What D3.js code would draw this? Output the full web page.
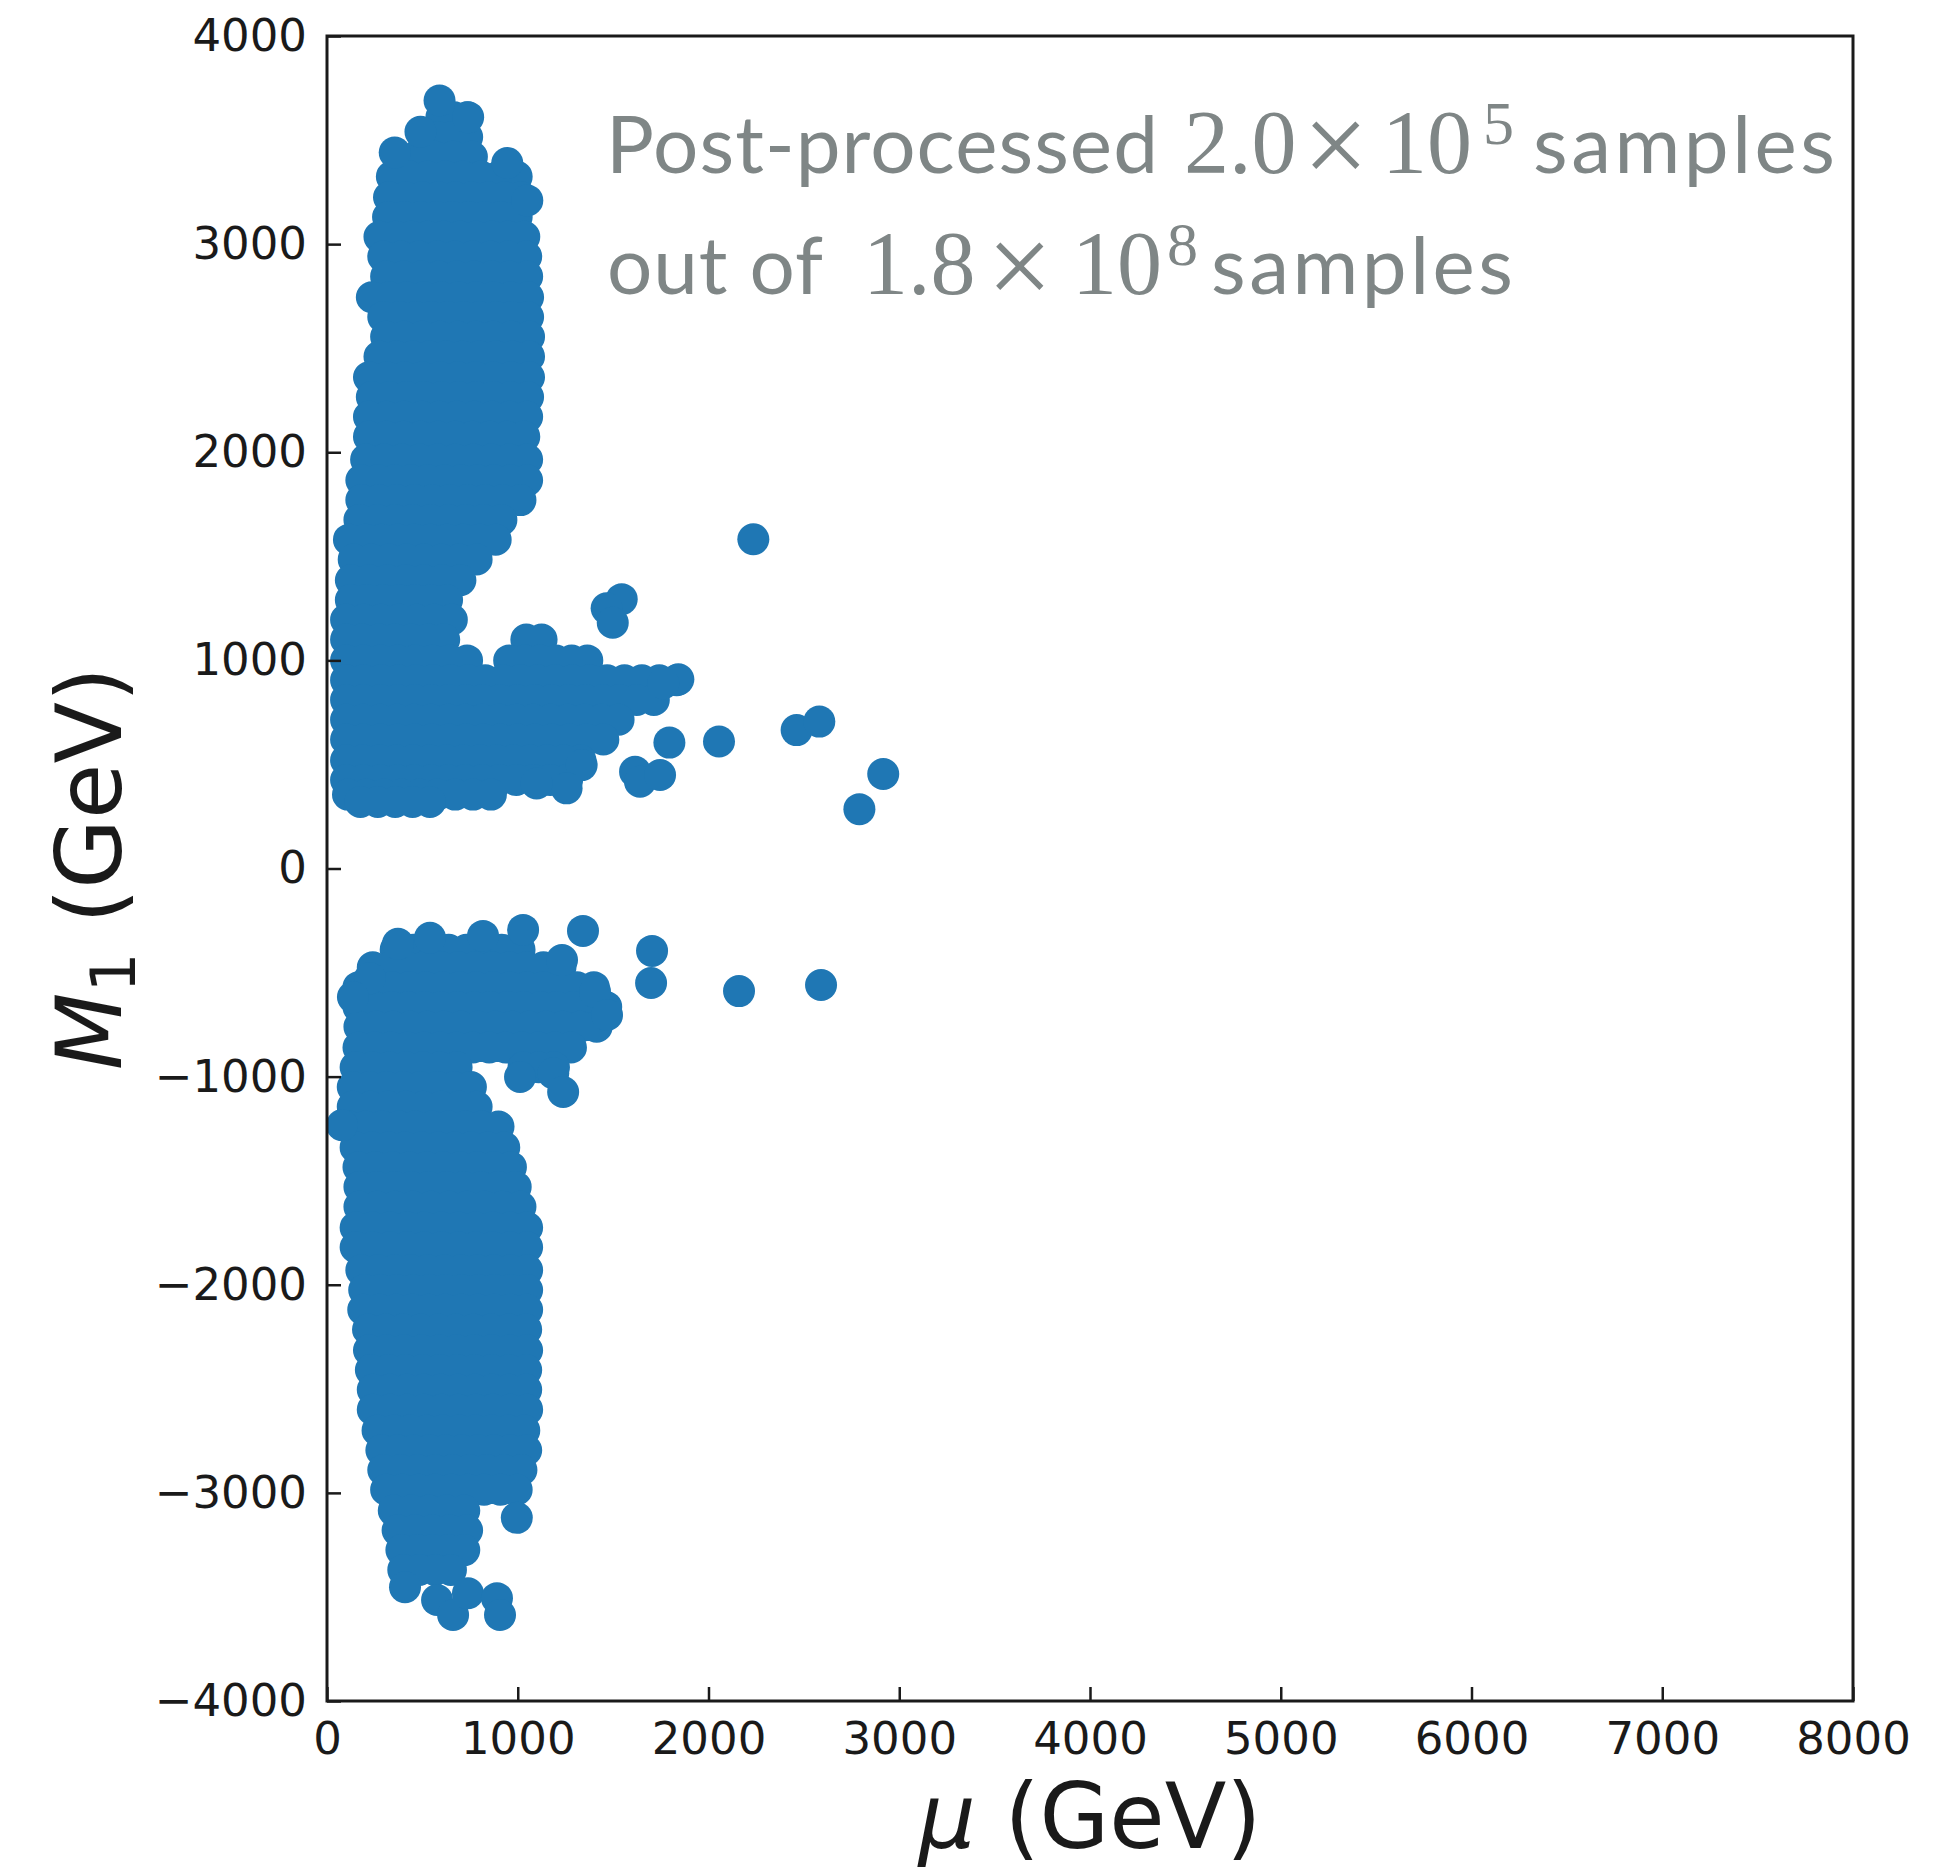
<!DOCTYPE html>
<html>
<head>
<meta charset="utf-8">
<script src="https://cdn.jsdelivr.net/npm/d3@7"></script>
<style>
  body { margin: 0; background: #fff; }
  svg { display: block; }
</style>
</head>
<body>
<script>
// tick values
var xTicks = [0, 1000, 2000, 3000, 4000, 5000, 6000, 7000, 8000];
var yTicks = [-4000, -3000, -2000, -1000, 0, 1000, 2000, 3000, 4000];

// dense part of the M1 > 0 cloud, read row by row: [M1, mu from, mu to]
var upperRows = [
  [3610, 600, 735], [3515, 505, 735], [3420, 370, 760], [3325, 340, 995],
  [3225, 325, 1020], [3130, 320, 995], [3035, 275, 1035], [2940, 295, 1045],
  [2845, 310, 1050], [2745, 235, 1055], [2650, 295, 1055], [2555, 310, 1060],
  [2460, 275, 1060], [2360, 220, 1060], [2265, 235, 1055], [2170, 220, 1050],
  [2075, 220, 1035], [1965, 205, 1050], [1865, 180, 1050], [1770, 180, 1015],
  [1675, 170, 915], [1580, 115, 885], [1485, 140, 785], [1385, 125, 700],
  [1290, 125, 630], [1195, 100, 655], [1100, 100, 615], [1100, 1045, 1125],
  [1000, 100, 735], [1000, 955, 1365], [905, 100, 1835], [810, 100, 1715],
  [715, 100, 1530], [620, 100, 1450], [520, 100, 1330], [425, 100, 1260],
  [355, 110, 860], [320, 175, 540]
];

// single visible points of the M1 > 0 cloud: [mu, M1]
var upperPoints = [
  [590, 3690], [740, 3610], [490, 3540], [355, 3440], [945, 3390], [1050, 3210],
  [2235, 1582], [1545, 1294], [1466, 1250], [1498, 1181], [1842, 909], [1763, 890],
  [1795, 605], [2055, 610], [2462, 665], [2581, 706], [1615, 465], [1641, 417],
  [1746, 449], [1335, 497], [1256, 385], [1099, 409], [2916, 454], [2791, 285]
];

// dense part of the M1 < 0 cloud: [M1, mu from, mu to]
var lowerRows = [
  [-390, 360, 1010], [-475, 240, 1225], [-570, 165, 1400], [-665, 165, 1465],
  [-760, 170, 1415], [-860, 165, 1280], [-955, 150, 680], [-955, 1030, 1190],
  [-1050, 135, 755], [-1145, 135, 785], [-1240, 115, 900], [-1340, 150, 930],
  [-1435, 165, 965], [-1530, 170, 990], [-1625, 170, 1015], [-1725, 150, 1050],
  [-1820, 150, 1050], [-1930, 180, 1050], [-2025, 195, 1050], [-2120, 190, 1050],
  [-2215, 215, 1045], [-2315, 220, 1050], [-2410, 230, 1045], [-2505, 240, 1045],
  [-2600, 240, 1050], [-2700, 265, 1035], [-2795, 285, 1045], [-2890, 295, 1020],
  [-2985, 310, 995], [-3085, 350, 720], [-3180, 370, 735], [-3275, 390, 720],
  [-3370, 400, 650]
];

// single visible points of the M1 < 0 cloud: [mu, M1]
var lowerPoints = [
  [372, -362], [540, -333], [818, -324], [1028, -295], [1342, -300], [1232, -440],
  [1405, -593], [1468, -704], [1704, -396], [1699, -550], [2160, -589], [2590, -560],
  [225, -527], [136, -618], [1012, -1002], [1186, -984], [1238, -1074], [79, -1233],
  [995, -3120], [409, -3453], [577, -3515], [661, -3587], [739, -3482], [891, -3506],
  [907, -3587]
];

var width = 1957;
var height = 1870;
var margin = {top: 36, right: 104, bottom: 169, left: 327};
var plotW = width - margin.left - margin.right;
var plotH = height - margin.top - margin.bottom;

var markerR = 16;
var blue = '#1f77b4';
var ink = '#1a1a1a';
var noteColor = '#7f8686';

var x = d3.scaleLinear().domain([0, 8000]).range([0, plotW]);
var y = d3.scaleLinear().domain([-4000, 4000]).range([plotH, 0]);

var svg = d3.select('body').append('svg')
  .attr('width', width)
  .attr('height', height);

var g = svg.append('g')
  .attr('transform', 'translate(' + margin.left + ',' + margin.top + ')');

g.append('clipPath')
  .attr('id', 'plotClip')
  .append('rect')
  .attr('width', plotW)
  .attr('height', plotH);

var cloud = g.append('g').attr('clip-path', 'url(#plotClip)');

//each row is a dotted stroke of round dots, so the markers overlap like in a scatter
function dotGap(d) {
  var len = x(d[2]) - x(d[1]);
  var n = Math.max(1, Math.round(len / 17));
  return '0,' + (len / n * 0.999);
}

cloud.selectAll('line.row')
  .data(upperRows.concat(lowerRows))
  .enter()
  .append('line')
  .attr('class', 'row')
  .attr('x1', (d) => x(d[1]))
  .attr('x2', (d) => x(d[2]))
  .attr('y1', (d) => y(d[0]))
  .attr('y2', (d) => y(d[0]))
  .attr('stroke', blue)
  .attr('stroke-width', markerR * 2)
  .attr('stroke-linecap', 'round')
  .attr('stroke-dasharray', dotGap);

cloud.selectAll('circle')
  .data(upperPoints.concat(lowerPoints))
  .enter()
  .append('circle')
  .attr('cx', (d) => x(d[0]))
  .attr('cy', (d) => y(d[1]))
  .attr('r', markerR)
  .attr('fill', blue);

//axes, ticks pointing inward
var fmt = d3.format('d');

var xAxis = g.append('g')
  .attr('transform', 'translate(0,' + plotH + ')')
  .call(d3.axisBottom(x).tickValues(xTicks).tickFormat(fmt)
    .tickSizeInner(-14).tickSizeOuter(0).tickPadding(21));

var yAxis = g.append('g')
  .call(d3.axisLeft(y).tickValues(yTicks).tickFormat(fmt)
    .tickSizeInner(-14).tickSizeOuter(0).tickPadding(20));

[xAxis, yAxis].forEach((a) => {
  a.select('.domain').remove();
  a.selectAll('.tick line').attr('stroke', ink).attr('stroke-width', 2.5);
  a.selectAll('.tick text')
    .attr('fill', ink)
    .style('font-family', '"DejaVu Sans", sans-serif')
    .style('font-size', '45px');
});

g.append('rect')
  .attr('width', plotW)
  .attr('height', plotH)
  .attr('fill', 'none')
  .attr('stroke', ink)
  .attr('stroke-width', 3);

//axis labels
var xLabel = svg.append('text')
  .attr('x', margin.left + plotW / 2)
  .attr('y', 1848)
  .attr('text-anchor', 'middle')
  .attr('fill', ink)
  .style('font-family', '"DejaVu Sans", sans-serif')
  .style('font-size', '90px');
xLabel.append('tspan').style('font-style', 'italic').text('μ');
xLabel.append('tspan').text(' (GeV)');

var yLabel = svg.append('text')
  .attr('transform', 'translate(121,' + (margin.top + plotH / 2) + ') rotate(-90)')
  .attr('text-anchor', 'middle')
  .attr('fill', ink)
  .style('font-family', '"DejaVu Sans", sans-serif')
  .style('font-size', '90px');
yLabel.append('tspan').style('font-style', 'italic').text('M');
yLabel.append('tspan').attr('dy', 14).style('font-size', '63px').text('1');
yLabel.append('tspan').attr('dy', -14).text(' (GeV)');

//note in the upper right, sans words with serif numbers
var sans = 'Lato, "Open Sans", sans-serif';
var serif = '"Liberation Serif", "DejaVu Serif", serif';
var notePieces = [
  {text: 'Post-processed', x: 606, y: 173, font: sans, size: 80, w: 552},
  {text: '2.0', x: 1184, y: 173, font: serif, size: 90},
  {text: '×', x: 1303, y: 184, font: serif, size: 116},
  {text: '10', x: 1382, y: 173, font: serif, size: 90},
  {text: '5', x: 1483, y: 144, font: serif, size: 62},
  {text: 'samples', x: 1533, y: 173, font: sans, size: 80, w: 302},
  {text: 'out of', x: 607, y: 294, font: sans, size: 80, w: 216},
  {text: '1.8', x: 863, y: 294, font: serif, size: 90},
  {text: '×', x: 987, y: 305, font: serif, size: 116},
  {text: '10', x: 1072, y: 294, font: serif, size: 90},
  {text: '8', x: 1167, y: 265, font: serif, size: 62},
  {text: 'samples', x: 1211, y: 294, font: sans, size: 80, w: 302}
];

svg.append('g').selectAll('text')
  .data(notePieces)
  .enter()
  .append('text')
  .attr('x', (d) => d.x)
  .attr('y', (d) => d.y)
  .attr('textLength', (d) => d.w || null)
  .attr('fill', noteColor)
  .style('font-family', (d) => d.font)
  .style('font-size', (d) => d.size + 'px')
  .text((d) => d.text);
</script>
</body>
</html>
